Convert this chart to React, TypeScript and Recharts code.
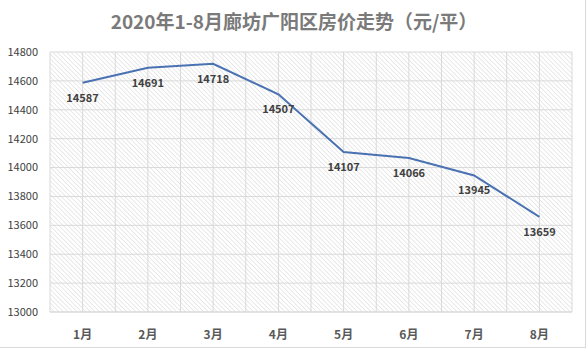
import { LineChart, Line, XAxis, YAxis, CartesianGrid, LabelList } from 'recharts';

// 2020年1-8月 廊坊广阳区 房价 (元/平)
const months = ['1月', '2月', '3月', '4月', '5月', '6月', '7月', '8月'];
const prices = [14587, 14691, 14718, 14507, 14107, 14066, 13945, 13659];
const yTicks = [13000, 13200, 13400, 13600, 13800, 14000, 14200, 14400, 14600, 14800];

const data = months.map((m, i) => ({ month: m, price: prices[i] }));

const FONT = '"Noto Sans CJK SC", "Noto Sans", sans-serif';

// grid lines at every category edge and center, like the excel chart
const verticalLines = ({ offset }: any) => {
  const step = offset.width / (months.length * 2);
  const out: number[] = [];
  for (let i = 0; i <= months.length * 2; i++) out.push(offset.left + i * step);
  return out;
};

const App = () => {
  return (
    <div
      style={{
        position: 'absolute',
        left: 0,
        top: 0,
        width: 585,
        height: 347,
        borderRight: '1px solid #d9d9d9',
        borderBottom: '1px solid #d9d9d9',
        background: '#fff',
        fontFamily: FONT,
      }}
    >
      <div
        style={{
          position: 'absolute',
          top: 8,
          left: 0,
          width: 588,
          textAlign: 'center',
          fontSize: 19,
          fontWeight: 'bold',
          color: '#7a7a7a',
          lineHeight: '26px',
        }}
      >
        2020年1-8月廊坊广阳区房价走势（元/平）
      </div>
      <LineChart
        width={588}
        height={351}
        data={data}
        margin={{ top: 52, right: 16, bottom: 9, left: 0 }}
        style={{ position: 'absolute', left: 0, top: 0 }}
      >
        <defs>
          <pattern id="hatch" width="3.2" height="3.2" patternUnits="userSpaceOnUse" patternTransform="rotate(-45)">
            <rect width="3.2" height="3.2" fill="#ffffff" />
            <line x1="0" y1="0" x2="0" y2="3.2" stroke="#d4d4d4" strokeWidth="1" />
          </pattern>
        </defs>
        <CartesianGrid
          stroke="#d9d9d9"
          fill="url(#hatch)"
          fillOpacity={1}
          verticalCoordinatesGenerator={verticalLines}
        />
        <XAxis
          dataKey="month"
          padding={{ left: 32.6, right: 32.6 }}
          axisLine={{ stroke: '#d9d9d9' }}
          tickLine={false}
          tickMargin={12}
          height={30}
          tick={{ fontSize: 12, fontWeight: 'bold', fill: '#595959', fontFamily: FONT }}
        />
        <YAxis
          domain={[13000, 14800]}
          ticks={yTicks}
          axisLine={false}
          tickLine={false}
          tickSize={0}
          tickMargin={12}
          width={50}
          tick={{ fontSize: 11, fill: '#404040', fontFamily: FONT }}
        />
        <Line
          type="linear"
          dataKey="price"
          stroke="#4a72b2"
          strokeWidth={2}
          dot={false}
          isAnimationActive={false}
        >
          <LabelList
            dataKey="price"
            position="bottom"
            offset={11}
            style={{ fontSize: 11, fontWeight: 'bold', fill: '#404040', fontFamily: FONT }}
          />
        </Line>
      </LineChart>
    </div>
  );
};

export default App;
